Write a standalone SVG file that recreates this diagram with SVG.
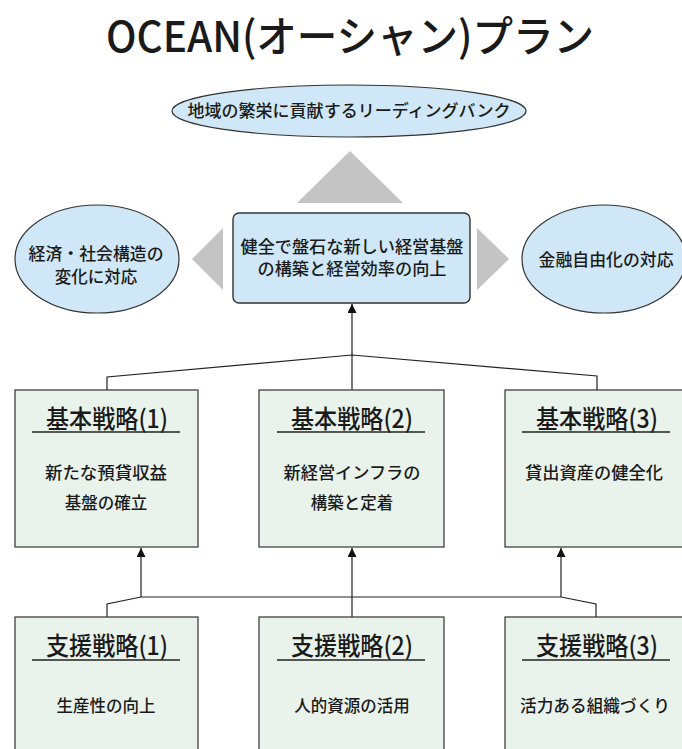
<svg xmlns="http://www.w3.org/2000/svg" width="682" height="749" viewBox="0 0 682 749">
<defs>
<marker id="ah" viewBox="0 0 10 10" refX="10" refY="5" markerWidth="11" markerHeight="9" markerUnits="userSpaceOnUse" orient="auto"><path d="M0,0 L10,5 L0,10 z" fill="#111"/></marker>
</defs>
<style>
text{font-family:"Noto Sans CJK JP","Noto Sans",sans-serif;fill:#1a1a1a;text-anchor:middle;font-weight:500}
.ell{fill:#cfe7f6;stroke:#333;stroke-width:1.2}
.cbox{fill:#cfe7f6;stroke:#333;stroke-width:1.4}
.box{fill:#e9f3ec;stroke:#333;stroke-width:1.2}
.tri{fill:#c4c4c4}
.ln{fill:none;stroke:#222;stroke-width:1.2}
.arr{fill:none;stroke:#222;stroke-width:1.2;marker-end:url(#ah)}
.t{font-size:16.5px}
.hd{font-size:25px}
.ul{stroke:#222;stroke-width:1.3}
</style>
<rect width="682" height="749" fill="#fff"/>
<g id="title"><text x="350" y="52" font-size="42" textLength="488" lengthAdjust="spacingAndGlyphs">OCEAN(オーシャン)プラン</text></g>
<g id="shapes">
<polygon class="tri" points="350,151 297,203 403,203"/>
<polygon class="tri" points="192,259 223,228 223,290"/>
<polygon class="tri" points="509,259 477,228 477,290"/>
</g>
<g id="connectors">
<path class="arr" d="M352,355 L352,304"/>
<path class="ln" d="M107,390 L107,377 L352,355 L597,376 L597,390 M352,355 L352,390"/>
<path class="arr" d="M141,597 L141,548"/>
<path class="arr" d="M352,617 L352,548"/>
<path class="arr" d="M561,597 L561,548"/>
<path class="ln" d="M107,617 L107,604 L141,597 L561,597 L596,604 L596,617"/>
</g>
<g id="vision"><ellipse class="ell" cx="349" cy="111" rx="177" ry="26"/><text class="t" x="349" y="117" textLength="323" lengthAdjust="spacingAndGlyphs">地域の繁栄に貢献するリーディングバンク</text></g>
<g id="left-ellipse"><ellipse class="ell" cx="97" cy="259" rx="82" ry="54"/><text class="t" x="96" y="260" textLength="135" lengthAdjust="spacingAndGlyphs">経済・社会構造の</text><text class="t" x="96" y="283">変化に対応</text></g>
<g id="right-ellipse"><ellipse class="ell" cx="604" cy="259" rx="82" ry="54"/><text class="t" x="606" y="266" textLength="135" lengthAdjust="spacingAndGlyphs">金融自由化の対応</text></g>
<g id="core"><rect class="cbox" x="233" y="213" width="237" height="90" rx="6"/><text class="t" x="352" y="253" textLength="223" lengthAdjust="spacingAndGlyphs">健全で盤石な新しい経営基盤</text><text class="t" x="352" y="275" textLength="189" lengthAdjust="spacingAndGlyphs">の構築と経営効率の向上</text></g>
<g id="basic1"><rect class="box" x="15" y="390" width="183" height="157"/><text class="hd" x="107" y="428" textLength="122" lengthAdjust="spacingAndGlyphs">基本戦略(1)</text><line class="ul" x1="32" y1="432" x2="180" y2="432"/><text class="t" x="106" y="479" textLength="122" lengthAdjust="spacingAndGlyphs">新たな預貸収益</text><text class="t" x="106" y="509">基盤の確立</text></g>
<g id="basic2"><rect class="box" x="259" y="390" width="185" height="157"/><text class="hd" x="352" y="428" textLength="122" lengthAdjust="spacingAndGlyphs">基本戦略(2)</text><line class="ul" x1="277" y1="432" x2="425" y2="432"/><text class="t" x="352" y="479" textLength="137" lengthAdjust="spacingAndGlyphs">新経営インフラの</text><text class="t" x="352" y="509">構築と定着</text></g>
<g id="basic3"><rect class="box" x="505" y="390" width="185" height="157"/><text class="hd" x="597" y="428" textLength="122" lengthAdjust="spacingAndGlyphs">基本戦略(3)</text><line class="ul" x1="522" y1="432" x2="670" y2="432"/><text class="t" x="594" y="479" textLength="138" lengthAdjust="spacingAndGlyphs">貸出資産の健全化</text></g>
<g id="support1"><rect class="box" x="15" y="617" width="183" height="145"/><text class="hd" x="107" y="655" textLength="122" lengthAdjust="spacingAndGlyphs">支援戦略(1)</text><line class="ul" x1="32" y1="660" x2="180" y2="660"/><text class="t" x="106" y="712">生産性の向上</text></g>
<g id="support2"><rect class="box" x="259" y="617" width="185" height="145"/><text class="hd" x="352" y="655" textLength="122" lengthAdjust="spacingAndGlyphs">支援戦略(2)</text><line class="ul" x1="277" y1="660" x2="425" y2="660"/><text class="t" x="352" y="712">人的資源の活用</text></g>
<g id="support3"><rect class="box" x="505" y="617" width="185" height="145"/><text class="hd" x="597" y="655" textLength="122" lengthAdjust="spacingAndGlyphs">支援戦略(3)</text><line class="ul" x1="522" y1="660" x2="670" y2="660"/><text class="t" x="595" y="712" textLength="150" lengthAdjust="spacingAndGlyphs">活力ある組織づくり</text></g>
</svg>
